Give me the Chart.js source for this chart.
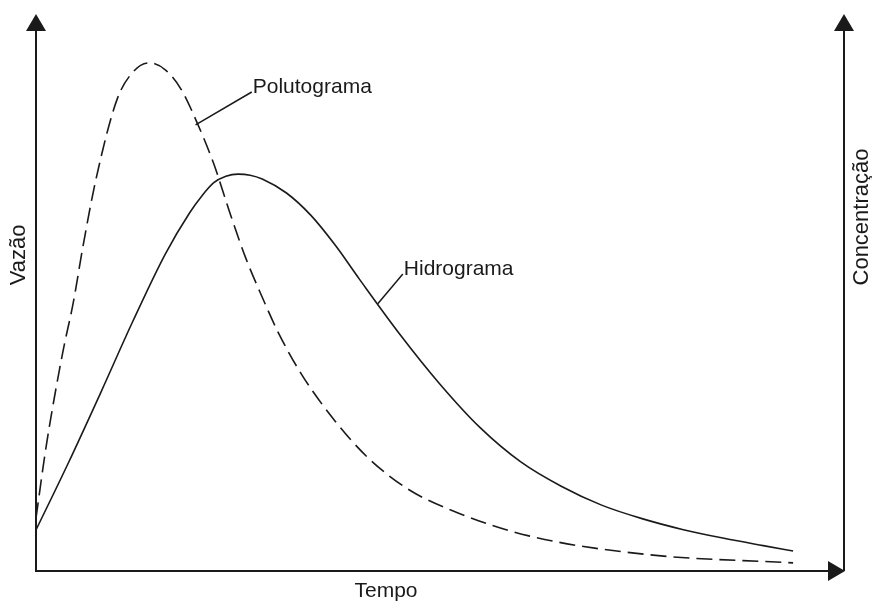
<!DOCTYPE html>
<html>
<head>
<meta charset="utf-8">
<script src="https://cdn.jsdelivr.net/npm/chart.js@4/dist/chart.umd.min.js"></script>
<style>
	html, body { margin: 0; padding: 0; background: #fff; }
	#wrap { width: 872px; height: 601px; position: relative; }
</style>
</head>
<body>
<div id="wrap"><canvas id="chart"></canvas></div>
<script>
// Hidrograma (solid) - tempo / vazao
const hidroTempo = [0, 4, 8, 12, 16, 19, 20.5, 22, 23.5, 25, 26.5, 28, 31, 34, 37, 40, 45, 50, 55, 60, 65, 70, 75, 80, 85, 90, 93.7];
const hidroVazao = [7.6, 20.0, 33.0, 46.3, 58.7, 66.3, 69.4, 71.9, 73.1, 73.5, 73.3, 72.6, 70.0, 65.9, 60.4, 54.1, 43.9, 34.6, 26.5, 20.2, 15.7, 12.2, 9.7, 7.7, 6.1, 4.7, 3.7];

// Polutograma (dashed) - tempo / concentracao
const poluTempo = [0, 1.25, 3.3, 4.6, 5.8, 7.4, 10, 12, 14, 16, 18, 20, 22, 24, 26, 28, 30, 33, 37, 41, 46, 52, 61, 76, 93.7];
const poluConc = [9.8, 23.0, 40.4, 49.6, 60.0, 72.4, 87.2, 92.4, 94.1, 92.8, 89.1, 82.8, 75.4, 66.3, 57.8, 50.7, 44.1, 36.1, 27.8, 21.1, 15.2, 10.9, 6.5, 3.0, 1.5];

// label callouts: point on curve -> end of leader line (data units)
const labels = [
	{text: 'Polutograma', axis: 'y2', from: [19.75, 82.6], to: [26.7, 88.7]},
	{text: 'Hidrograma', axis: 'y', from: [42.3, 49.5], to: [45.4, 55.0]},
];

const toPoints = (xs, ys) => xs.map((x, i) => ({x: x, y: ys[i]}));

const ink = '#1a1a1a';
const font = '"Liberation Sans", Arial, sans-serif';

// draws the arrowed axes, titles and callouts
const sketchPlugin = {
	id: 'sketch',
	afterDraw(chart) {
		const ctx = chart.ctx;
		const a = chart.chartArea;
		const xs = chart.scales.x;
		ctx.save();
		ctx.strokeStyle = ink;
		ctx.fillStyle = ink;
		ctx.lineWidth = 2;

		// axes lines
		ctx.beginPath();
		ctx.moveTo(a.left, a.top);
		ctx.lineTo(a.left, a.bottom);
		ctx.lineTo(a.right - 16, a.bottom);
		ctx.moveTo(a.right, a.top);
		ctx.lineTo(a.right, a.bottom);
		ctx.stroke();

		// arrow heads
		const up = (x) => {
			ctx.beginPath();
			ctx.moveTo(x, a.top - 17);
			ctx.lineTo(x - 10, a.top);
			ctx.lineTo(x + 10, a.top);
			ctx.closePath();
			ctx.fill();
		};
		up(a.left);
		up(a.right);
		ctx.beginPath();
		ctx.moveTo(a.right + 1, a.bottom);
		ctx.lineTo(a.right - 16, a.bottom - 10);
		ctx.lineTo(a.right - 16, a.bottom + 10);
		ctx.closePath();
		ctx.fill();

		// titles
		ctx.font = '21px ' + font;
		ctx.textAlign = 'center';
		ctx.textBaseline = 'alphabetic';
		ctx.fillText('Tempo', 386, 597);

		ctx.save();
		ctx.translate(25, 255);
		ctx.rotate(-Math.PI / 2);
		ctx.font = '22px ' + font;
		ctx.fillText('Vazão', 0, 0);
		ctx.restore();

		ctx.save();
		ctx.translate(868, 217);
		ctx.rotate(-Math.PI / 2);
		ctx.font = '22px ' + font;
		ctx.fillText('Concentração', 0, 0);
		ctx.restore();

		// callouts
		ctx.lineWidth = 1.5;
		ctx.textAlign = 'left';
		labels.forEach(l => {
			const ys = chart.scales[l.axis];
			const x0 = xs.getPixelForValue(l.from[0]), y0 = ys.getPixelForValue(l.from[1]);
			const x1 = xs.getPixelForValue(l.to[0]), y1 = ys.getPixelForValue(l.to[1]);
			ctx.beginPath();
			ctx.moveTo(x0, y0);
			ctx.lineTo(x1, y1);
			ctx.stroke();
			ctx.fillText(l.text, x1 + 1, y1 + 1);
		});
		ctx.restore();
	}
};

new Chart(document.getElementById('chart'), {
	type: 'line',
	data: {
		datasets: [
			{
				label: 'Hidrograma',
				data: toPoints(hidroTempo, hidroVazao),
				yAxisID: 'y',
				borderColor: ink,
				borderWidth: 1.6,
				pointRadius: 0,
				cubicInterpolationMode: 'monotone',
				fill: false,
			},
			{
				label: 'Polutograma',
				data: toPoints(poluTempo, poluConc),
				yAxisID: 'y2',
				borderColor: ink,
				borderWidth: 1.6,
				borderDash: [16, 7],
				pointRadius: 0,
				cubicInterpolationMode: 'monotone',
				fill: false,
			},
		],
	},
	options: {
		responsive: true,
		maintainAspectRatio: false,
		animation: false,
		layout: {
			padding: {left: 36, right: 28, top: 31, bottom: 30},
		},
		plugins: {
			legend: {display: false},
			tooltip: {enabled: false},
		},
		scales: {
			x: {type: 'linear', min: 0, max: 100, display: false},
			y: {min: 0, max: 100, display: false},
			y2: {min: 0, max: 100, display: false, position: 'right'},
		},
	},
	plugins: [sketchPlugin],
});
</script>
</body>
</html>
